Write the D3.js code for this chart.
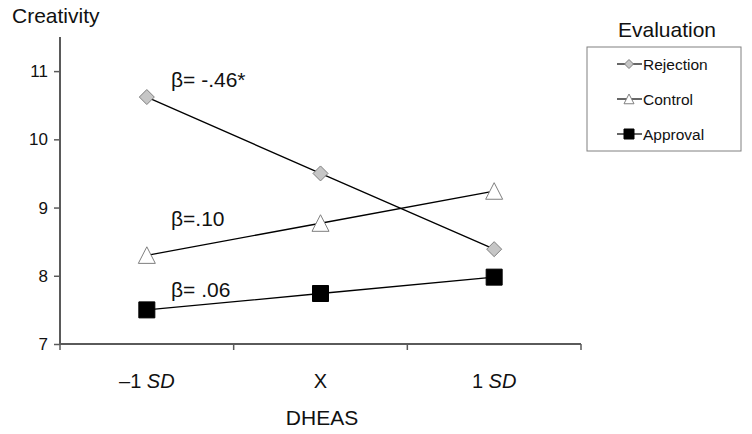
<!DOCTYPE html>
<html>
<head>
<meta charset="utf-8">
<script src="https://cdn.jsdelivr.net/npm/d3@7"></script>
<style>
  html, body { margin: 0; padding: 0; background: #fff; }
  svg { display: block; font-family: "Liberation Sans", Arial, sans-serif; }
</style>
</head>
<body>
<svg id="chart" width="752" height="434"></svg>
<script>
const categories = ["-1SD", "X", "1SD"];
const categoryLabels = [["–1 ", "SD"], ["X", ""], ["1 ", "SD"]];
const yTicks = [7, 8, 9, 10, 11];
const seriesNames = ["Rejection", "Control", "Approval"];
const rejection = [10.62, 9.50, 8.39];
const control = [8.30, 8.77, 9.24];
const approval = [7.50, 7.74, 7.98];
const betaLabels = ["β= -.46*", "β=.10", "β= .06"];
const betaY = [10.77, 8.73, 7.69];

const svg = d3.select("#chart");
const plotLeft = 60, plotRight = 581, plotTop = 37, plotBottom = 344;

const x = d3.scaleBand().domain(categories).range([plotLeft, plotRight]).padding(0);
const y = d3.scaleLinear().domain([7, 11.5]).range([plotBottom, plotTop]);
const cx = c => x(c) + x.bandwidth() / 2;

const axisColor = "#5a5a5a";

// Y axis
const yAxis = svg.append("g").attr("transform", `translate(${plotLeft},0)`)
  .call(d3.axisLeft(y).tickValues(yTicks).tickSize(6).tickPadding(6).tickFormat(d3.format("d")));
yAxis.select(".domain").attr("stroke", axisColor).attr("stroke-width", 2).attr("d", `M0,${plotTop}V${plotBottom}`);
yAxis.selectAll(".tick line").attr("stroke", axisColor).attr("stroke-width", 1.5);
yAxis.selectAll(".tick text").attr("font-size", 17).attr("fill", "#111").attr("font-family", "Liberation Sans, Arial, sans-serif");

// X axis (labels at band centers, ticks at band edges)
const xAxis = svg.append("g").attr("transform", `translate(0,${plotBottom})`)
  .call(d3.axisBottom(x).tickSize(0).tickPadding(0).tickFormat(""));
xAxis.select(".domain").attr("stroke", axisColor).attr("stroke-width", 2).attr("d", `M${plotLeft},0H${plotRight}`);
const edges = categories.map(c => x(c)).concat([x(categories[categories.length - 1]) + x.bandwidth()]);
xAxis.selectAll(".edge").data(edges).join("line")
  .attr("x1", d => d).attr("x2", d => d).attr("y1", 0).attr("y2", 6)
  .attr("stroke", axisColor).attr("stroke-width", 1.5);

const xl = svg.append("g");
categories.forEach((c, i) => {
  const t = xl.append("text").attr("x", cx(c)).attr("y", 388)
    .attr("text-anchor", "middle").attr("font-size", 20).attr("fill", "#111");
  t.append("tspan").text(categoryLabels[i][0]);
  if (categoryLabels[i][1]) t.append("tspan").attr("font-style", "italic").text(categoryLabels[i][1]);
});

svg.append("text").attr("x", 322).attr("y", 425).attr("text-anchor", "middle")
  .attr("font-size", 21).attr("fill", "#111").text("DHEAS");
svg.append("text").attr("x", 12).attr("y", 23).attr("font-size", 21).attr("fill", "#111").text("Creativity");

// Series
const series = [
  { name: seriesNames[0], values: rejection, shape: "diamond", fill: "#c6c6c6", stroke: "#7f7f7f", size: 7.5 },
  { name: seriesNames[1], values: control, shape: "triangle", fill: "#ffffff", stroke: "#7f7f7f", size: 8.5 },
  { name: seriesNames[2], values: approval, shape: "square", fill: "#000000", stroke: "#000000", size: 8 }
];

function markerPath(shape, s) {
  if (shape === "diamond") return `M0,${-s}L${s},0L0,${s}L${-s},0Z`;
  if (shape === "triangle") return `M0,${-s}L${s},${s * 0.95}L${-s},${s * 0.95}Z`;
  return `M${-s},${-s}H${s}V${s}H${-s}Z`;
}

const line = d3.line().x((d, i) => cx(categories[i])).y(d => y(d));

series.forEach(s => {
  svg.append("path").datum(s.values).attr("d", line)
    .attr("fill", "none").attr("stroke", "#000").attr("stroke-width", 1.3);
});
series.forEach(s => {
  svg.append("g").selectAll("path").data(s.values).join("path")
    .attr("transform", (d, i) => `translate(${cx(categories[i])},${y(d)})`)
    .attr("d", markerPath(s.shape, s.size))
    .attr("fill", s.fill).attr("stroke", s.stroke).attr("stroke-width", 1);
});

// Beta labels
betaLabels.forEach((b, i) => {
  svg.append("text").attr("x", 171).attr("y", y(betaY[i]))
    .attr("font-size", 21).attr("fill", "#111").text(b);
});

// Legend
svg.append("text").attr("x", 667).attr("y", 37).attr("text-anchor", "middle")
  .attr("font-size", 21).attr("fill", "#111").text("Evaluation");
svg.append("rect").attr("x", 587).attr("y", 47).attr("width", 154).attr("height", 104)
  .attr("fill", "#fff").attr("stroke", "#808080").attr("stroke-width", 1);
const legendSizes = [4.5, 5, 5];
series.forEach((s, i) => {
  const ly = 64 + i * 35;
  const g = svg.append("g").attr("transform", `translate(0,${ly})`);
  g.append("line").attr("x1", 617).attr("x2", 642).attr("y1", 0).attr("y2", 0)
    .attr("stroke", "#000").attr("stroke-width", 1.2);
  g.append("path").attr("transform", "translate(629,0)").attr("d", markerPath(s.shape, legendSizes[i]))
    .attr("fill", s.fill).attr("stroke", s.stroke).attr("stroke-width", 1);
  g.append("text").attr("x", 643).attr("y", 5.5).attr("font-size", 15.5).attr("fill", "#111").text(s.name);
});
</script>
</body>
</html>
